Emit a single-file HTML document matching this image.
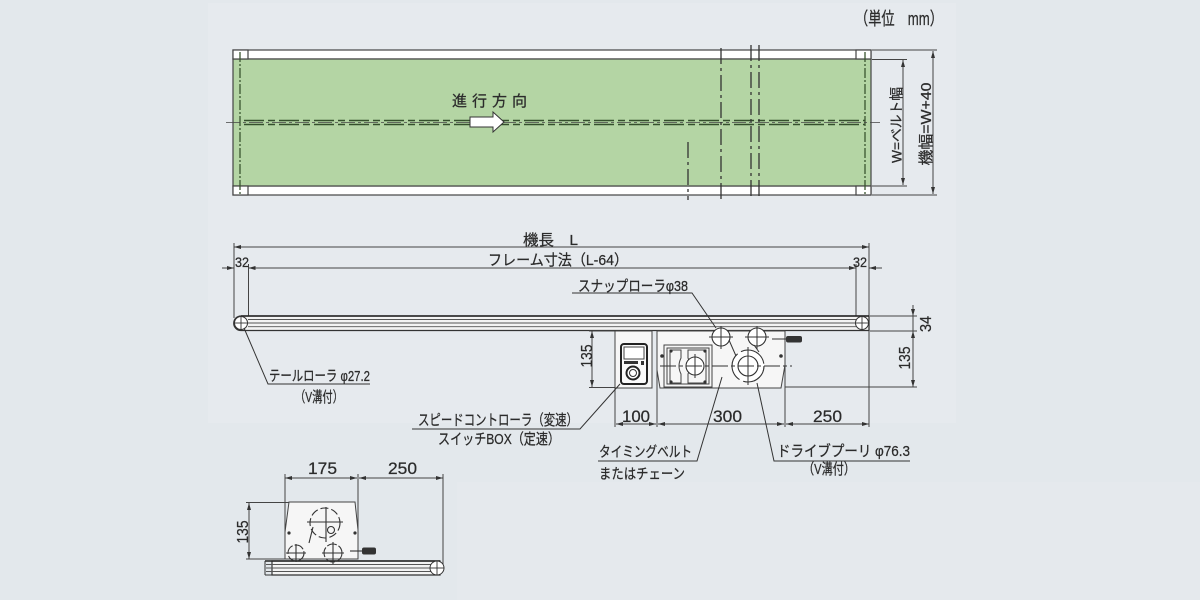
<!DOCTYPE html>
<html><head><meta charset="utf-8"><style>
html,body{margin:0;padding:0;background:#e3e8ec;width:1200px;height:600px;overflow:hidden}
svg{display:block}
text{font-family:"Liberation Sans","Noto Sans CJK JP",sans-serif;fill:#2b2b2b;stroke:#2b2b2b;stroke-width:0.25}
</style></head><body>
<svg width="1200" height="600" viewBox="0 0 1200 600" xmlns="http://www.w3.org/2000/svg">
<defs>
<marker id="a" markerWidth="8" markerHeight="6" refX="7" refY="3" orient="auto-start-reverse" markerUnits="userSpaceOnUse"><path d="M0,1 L7,3 L0,5 z" fill="#333"/></marker>
</defs>
<rect x="0" y="0" width="1200" height="600" fill="#e3e8ec"/>
<rect x="208" y="3" width="748" height="420" fill="#e6eaee"/>
<rect x="457" y="482" width="743" height="118" fill="#e5e9ed"/>

<!-- ===== TOP VIEW ===== -->
<g stroke="#444" stroke-width="1.2">
<rect x="233" y="50" width="638" height="9" fill="#fff"/>
<rect x="233" y="186" width="638" height="9" fill="#fff"/>
<rect x="233" y="59" width="638" height="127" fill="#b4d5a4"/>
<rect x="233" y="50" width="15" height="9" fill="#fff"/>
<rect x="233" y="186" width="15" height="9" fill="#fff"/>
<rect x="856" y="50" width="15" height="9" fill="#fff"/>
<rect x="856" y="186" width="15" height="9" fill="#fff"/>
</g>
<g stroke="#3a5530" stroke-width="1.3" fill="none">
<line x1="240" y1="52" x2="240" y2="195" stroke-dasharray="10,2,2,2"/>
<line x1="865" y1="52" x2="865" y2="195" stroke-dasharray="10,2,2,2"/>
</g>
<g stroke="#34502c" stroke-width="1.5" fill="none">
<line x1="244" y1="120.5" x2="865" y2="120.5" stroke-dasharray="20,4,7,4"/>
<line x1="244" y1="124.5" x2="865" y2="124.5" stroke-dasharray="20,4,7,4"/>
</g>
<line x1="226" y1="122.5" x2="880" y2="122.5" stroke="#444" stroke-width="0.8" stroke-dasharray="14,3,3,3"/>
<g stroke="#333" stroke-width="1.3" fill="none">
<line x1="688" y1="142" x2="688" y2="200" stroke-dasharray="16,4,3,4"/>
<line x1="721" y1="48" x2="721" y2="200" stroke-dasharray="16,4,3,4"/>
<line x1="751" y1="45" x2="751" y2="200" stroke-dasharray="16,4,3,4"/>
<line x1="759" y1="45" x2="759" y2="200" stroke-dasharray="16,4,3,4"/>
</g>
<polygon points="470,117 493,117 493,112 504,122 493,132 493,127 470,127" fill="#fff" stroke="#333" stroke-width="1"/>
<text x="452" y="106" font-size="15" textLength="75" lengthAdjust="spacing">進行方向</text>

<!-- top view dims -->
<g stroke="#444" stroke-width="1" fill="none">
<line x1="872" y1="59.5" x2="907" y2="59.5"/>
<line x1="872" y1="186" x2="907" y2="186"/>
<line x1="872" y1="50" x2="937" y2="50"/>
<line x1="872" y1="195" x2="937" y2="195"/>
<line x1="903" y1="60" x2="903" y2="185" marker-start="url(#a)" marker-end="url(#a)"/>
<line x1="933" y1="51" x2="933" y2="194" marker-start="url(#a)" marker-end="url(#a)"/>
</g>
<text transform="translate(896,125) rotate(-90)" x="0" y="5.5" font-size="14" text-anchor="middle" textLength="76" lengthAdjust="spacingAndGlyphs">W=ベルト幅</text>
<text transform="translate(925,124) rotate(-90)" x="0" y="6" font-size="15" text-anchor="middle" textLength="83" lengthAdjust="spacingAndGlyphs">機幅=W+40</text>
<text x="855" y="25" font-size="18" textLength="88" lengthAdjust="spacingAndGlyphs">（単位　mm）</text>

<!-- ===== SIDE VIEW ===== -->
<g stroke="#444" stroke-width="1" fill="none">
<line x1="234" y1="243" x2="234" y2="318"/>
<line x1="869" y1="243" x2="869" y2="427"/>
<line x1="248.5" y1="264" x2="248.5" y2="318"/>
<line x1="856" y1="264" x2="856" y2="318"/>
<line x1="234" y1="247" x2="869" y2="247" marker-start="url(#a)" marker-end="url(#a)"/>
<line x1="248.5" y1="268" x2="856" y2="268" marker-start="url(#a)" marker-end="url(#a)"/>
<line x1="222" y1="268" x2="234" y2="268" marker-end="url(#a)"/>
<line x1="882" y1="268" x2="869" y2="268" marker-end="url(#a)"/>
</g>
<text x="523" y="245" font-size="15" textLength="55" lengthAdjust="spacingAndGlyphs">機長　L</text>
<text x="488" y="265" font-size="15" textLength="140" lengthAdjust="spacingAndGlyphs">フレーム寸法（L-64）</text>
<text x="235" y="267" font-size="14" textLength="14" lengthAdjust="spacingAndGlyphs">32</text>
<text x="853" y="267" font-size="14" textLength="14" lengthAdjust="spacingAndGlyphs">32</text>

<!-- conveyor -->
<path d="M241,316 H869 V330.5 H241 A7.25,7.25 0 0 1 241,316 Z" fill="#f3f3f3" stroke="#333" stroke-width="1.3"/>
<g stroke="#555" stroke-width="0.9">
<line x1="248" y1="319.5" x2="856" y2="319.5"/>
<line x1="248" y1="323" x2="856" y2="323"/>
<line x1="248" y1="326.7" x2="856" y2="326.7"/>
</g>
<line x1="241" y1="316" x2="869" y2="316" stroke="#222" stroke-width="1.6"/>
<g stroke="#333" stroke-width="1" fill="#fff">
<circle cx="241" cy="323" r="6.5"/>
<circle cx="862" cy="323" r="6.5"/>
</g>
<g stroke="#333" stroke-width="0.9">
<line x1="234" y1="323" x2="248" y2="323"/><line x1="241" y1="316" x2="241" y2="330"/>
<line x1="855" y1="323" x2="869" y2="323"/><line x1="862" y1="316" x2="862" y2="330"/>
</g>

<!-- right dims 34/135 -->
<g stroke="#444" stroke-width="1" fill="none">
<line x1="870" y1="316" x2="917" y2="316"/>
<line x1="870" y1="331" x2="917" y2="331"/>
<line x1="785" y1="387" x2="917" y2="387"/>
<line x1="913" y1="305" x2="913" y2="316" marker-end="url(#a)"/>
<line x1="913" y1="316" x2="913" y2="331"/>
<line x1="913" y1="331" x2="913" y2="387" marker-start="url(#a)" marker-end="url(#a)"/>
</g>
<text transform="translate(925,324) rotate(-90)" x="0" y="6" font-size="16" text-anchor="middle" textLength="16" lengthAdjust="spacingAndGlyphs">34</text>
<text transform="translate(904,358) rotate(-90)" x="0" y="6" font-size="16" text-anchor="middle" textLength="23" lengthAdjust="spacingAndGlyphs">135</text>

<!-- left 135 -->
<g stroke="#444" stroke-width="1" fill="none">
<line x1="589" y1="331" x2="615" y2="331"/>
<line x1="589" y1="387.5" x2="615" y2="387.5"/>
<line x1="592" y1="331" x2="592" y2="387" marker-start="url(#a)" marker-end="url(#a)"/>
</g>
<text transform="translate(586,356) rotate(-90)" x="0" y="6" font-size="16" text-anchor="middle" textLength="23" lengthAdjust="spacingAndGlyphs">135</text>

<!-- switch box -->
<rect x="615" y="331" width="37" height="57" fill="#f6f6f6" stroke="#444" stroke-width="1"/>
<rect x="621" y="344" width="26" height="40" rx="3" fill="#fafafa" stroke="#222" stroke-width="2"/>
<rect x="624" y="347" width="20" height="12" fill="#fff" stroke="#444" stroke-width="1"/>
<rect x="624" y="361" width="14" height="3" fill="#333"/>
<rect x="641" y="361" width="3" height="4" fill="#333"/>
<circle cx="633" cy="373" r="6.5" fill="#fff" stroke="#222" stroke-width="2"/>
<circle cx="633" cy="373" r="3.5" fill="none" stroke="#333" stroke-width="1"/>

<!-- drive housing -->
<polygon points="657,331 785,331 785,365 781,388 660,388 657,370" fill="#f6f6f6" stroke="#444" stroke-width="1"/>
<line x1="657" y1="331" x2="657" y2="427" stroke="#444" stroke-width="1"/>
<line x1="785" y1="331" x2="785" y2="427" stroke="#444" stroke-width="1"/>
<line x1="615" y1="388" x2="615" y2="427" stroke="#444" stroke-width="1"/>
<!-- motor -->
<g fill="none" stroke="#444" stroke-width="1">
<rect x="664" y="345" width="48" height="42"/>
<rect x="667" y="348" width="42" height="36"/>
<path d="M670,350 H681 V358 Q677,366 681,374 V383 H670 Z"/>
<path d="M688,350 H706 V383 H688 V374 Q692,366 688,358 Z"/>
</g>
<g fill="#333">
<circle cx="671" cy="351" r="1.6"/><circle cx="671" cy="382" r="1.6"/>
<circle cx="705" cy="351" r="1.6"/><circle cx="705" cy="382" r="1.6"/>
<circle cx="662" cy="356" r="1.8"/><circle cx="781" cy="356" r="1.8"/>
</g>
<g fill="#fff" stroke="#333" stroke-width="1.1">
<circle cx="695" cy="366" r="9"/>
<circle cx="721" cy="337" r="9"/>
<circle cx="757" cy="337" r="9"/>
<circle cx="748" cy="366" r="16" stroke-dasharray="30,4"/>
<circle cx="748" cy="366" r="10"/>
</g>
<g stroke="#333" stroke-width="1" fill="none">
<line x1="660" y1="366" x2="792" y2="366" stroke-dasharray="16,3,4,3"/>
<line x1="695" y1="354" x2="695" y2="378"/>
<line x1="709" y1="337" x2="733" y2="337"/><line x1="721" y1="326" x2="721" y2="349"/>
<line x1="745" y1="337" x2="769" y2="337"/><line x1="757" y1="326" x2="757" y2="349"/>
<line x1="748" y1="347" x2="748" y2="385"/>
<line x1="729" y1="340" x2="736" y2="356"/>
<line x1="754" y1="345" x2="759" y2="352"/>
<line x1="772" y1="339" x2="786" y2="339"/>
</g>
<rect x="786" y="336" width="16" height="6.5" rx="2" fill="#333"/>

<!-- bottom dims 100/300/250 -->
<g stroke="#444" stroke-width="1" fill="none">
<line x1="616" y1="424" x2="656" y2="424" marker-start="url(#a)" marker-end="url(#a)"/>
<line x1="658" y1="424" x2="784" y2="424" marker-start="url(#a)" marker-end="url(#a)"/>
<line x1="786" y1="424" x2="869" y2="424" marker-start="url(#a)" marker-end="url(#a)"/>
</g>
<text x="622" y="422" font-size="17" textLength="28" lengthAdjust="spacingAndGlyphs">100</text>
<text x="713" y="422" font-size="17" textLength="29" lengthAdjust="spacingAndGlyphs">300</text>
<text x="813" y="422" font-size="17" textLength="29" lengthAdjust="spacingAndGlyphs">250</text>

<!-- leaders -->
<g stroke="#333" stroke-width="1" fill="none">
<polyline points="572,293 692,293 716,328"/>
<polyline points="370,384 268,384 244,328"/>
<polyline points="412,429 580,429 620,384"/>
<polyline points="598,461 697,461 722,377"/>
<polyline points="910,461 774,461 757,383"/>
</g>
<text x="578" y="291" font-size="15" textLength="110" lengthAdjust="spacingAndGlyphs">スナップローラφ38</text>
<text x="269" y="381" font-size="14.5" textLength="101" lengthAdjust="spacingAndGlyphs">テールローラ φ27.2</text>
<text x="295" y="402" font-size="15" textLength="48" lengthAdjust="spacingAndGlyphs">（V溝付）</text>
<text x="418" y="425" font-size="15" textLength="160" lengthAdjust="spacingAndGlyphs">スピードコントローラ（変速）</text>
<text x="438" y="444" font-size="15" textLength="122" lengthAdjust="spacingAndGlyphs">スイッチBOX（定速）</text>
<text x="599" y="457" font-size="14.5" textLength="93" lengthAdjust="spacingAndGlyphs">タイミングベルト</text>
<text x="599" y="479" font-size="14.5" textLength="86" lengthAdjust="spacingAndGlyphs">またはチェーン</text>
<text x="777" y="456" font-size="15" textLength="133" lengthAdjust="spacingAndGlyphs">ドライブプーリ φ76.3</text>
<text x="803" y="474" font-size="15" textLength="52" lengthAdjust="spacingAndGlyphs">（V溝付）</text>

<!-- ===== BOTTOM-LEFT VIEW ===== -->
<g stroke="#444" stroke-width="1" fill="none">
<line x1="285" y1="474" x2="285" y2="559"/>
<line x1="358" y1="474" x2="358" y2="559"/>
<line x1="443" y1="474" x2="443" y2="566"/>
<line x1="285" y1="478" x2="357" y2="478" marker-start="url(#a)" marker-end="url(#a)"/>
<line x1="359" y1="478" x2="443" y2="478" marker-start="url(#a)" marker-end="url(#a)"/>
<line x1="246" y1="502.5" x2="289" y2="502.5"/>
<line x1="246" y1="559" x2="285" y2="559"/>
<line x1="249" y1="503" x2="249" y2="559" marker-start="url(#a)" marker-end="url(#a)"/>
</g>
<text x="308" y="474" font-size="17" textLength="29" lengthAdjust="spacingAndGlyphs">175</text>
<text x="388" y="474" font-size="17" textLength="29" lengthAdjust="spacingAndGlyphs">250</text>
<text transform="translate(242,532) rotate(-90)" x="0" y="6" font-size="16" text-anchor="middle" textLength="23" lengthAdjust="spacingAndGlyphs">135</text>

<polygon points="289,502 355,502 358,530 358,559 285,559 285,532" fill="#f6f6f6" stroke="#444" stroke-width="1"/>
<path d="M272,561 H440 V575 H272 Z" fill="#f3f3f3" stroke="#333" stroke-width="1.2"/>
<g stroke="#555" stroke-width="0.9">
<line x1="266" y1="564.5" x2="432" y2="564.5"/>
<line x1="266" y1="568" x2="432" y2="568"/>
<line x1="266" y1="571.5" x2="432" y2="571.5"/>
</g>
<line x1="265" y1="561" x2="440" y2="561" stroke="#222" stroke-width="1.5"/>
<line x1="265" y1="561" x2="265" y2="575" stroke="#333" stroke-width="1"/>
<line x1="265" y1="575" x2="440" y2="575" stroke="#333" stroke-width="1"/>
<circle cx="437" cy="568" r="7" fill="#fff" stroke="#333" stroke-width="1"/>
<g stroke="#333" stroke-width="0.9"><line x1="430" y1="568" x2="444" y2="568"/><line x1="437" y1="561" x2="437" y2="575"/></g>

<g fill="none" stroke="#333" stroke-width="1.1">
<circle cx="325" cy="523" r="15" stroke-dasharray="8,3"/>
<line x1="307" y1="522" x2="343" y2="522"/>
<line x1="326" y1="507" x2="326" y2="542"/>
<circle cx="331" cy="530" r="3.5"/>
<circle cx="296" cy="553" r="8" stroke-dasharray="10,2"/>
<line x1="286" y1="553" x2="306" y2="553"/><line x1="296" y1="544" x2="296" y2="562"/>
<circle cx="333" cy="553" r="9" stroke-dasharray="10,2"/>
<line x1="322" y1="553" x2="344" y2="553"/><line x1="333" y1="542" x2="333" y2="564"/>
<line x1="309" y1="543" x2="313" y2="527"/>
<line x1="350" y1="551" x2="362" y2="551"/>
</g>
<g fill="#333">
<circle cx="289" cy="533" r="1.6"/><circle cx="355" cy="533" r="1.6"/>
</g>
<rect x="362" y="547.5" width="14" height="7" rx="2" fill="#333"/>
</svg>
</body></html>
